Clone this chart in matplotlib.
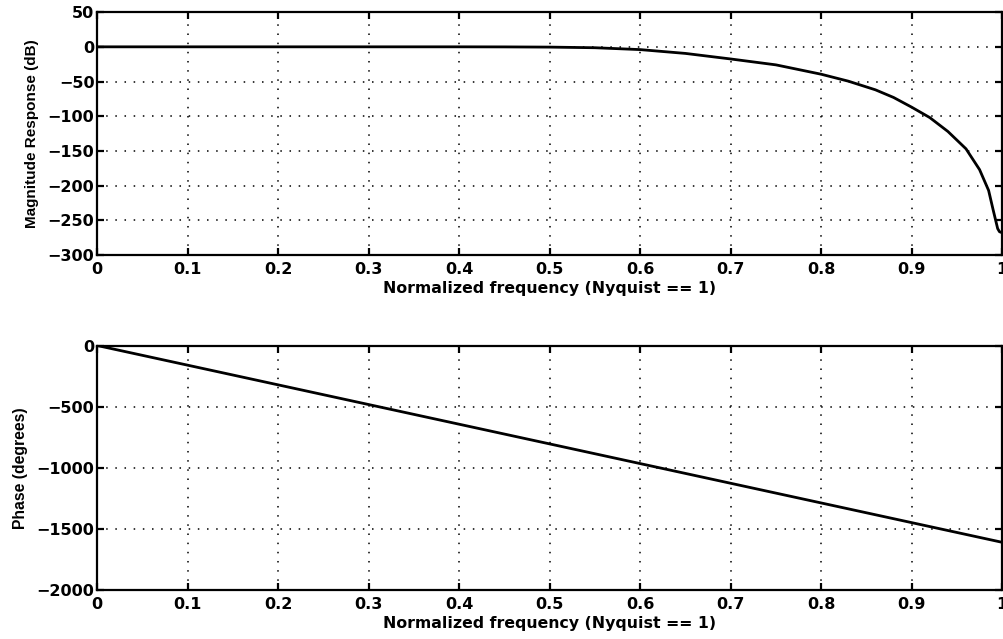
import matplotlib
matplotlib.use("Agg")
import matplotlib.pyplot as plt

# Magnitude response of the FIR lowpass filter (dB), sampled along the curve
freq_mag = [0.0, 0.1, 0.2, 0.3, 0.4, 0.45, 0.5, 0.55, 0.6, 0.65, 0.7, 0.75,
            0.8, 0.83, 0.86, 0.88, 0.9, 0.92, 0.94, 0.96, 0.975, 0.985,
            0.99, 0.995, 0.997, 1.0]
mag_db = [0.0, 0.0, 0.0, 0.0, 0.0, -0.1, -0.4, -1.3, -4.0, -9.5, -17.5, -26.0,
          -39.5, -49.5, -62.0, -73.0, -87.0, -102.0, -122.0, -147.0, -177.0,
          -207.0, -235.0, -262.0, -266.5, -268.0]

# Phase response (degrees), linear phase
freq_phase = [0.0, 0.3, 0.6, 0.9, 1.0]
phase_deg = [0.0, -483.0, -966.0, -1449.0, -1610.0]

x_ticks = [0.0, 0.1, 0.2, 0.3, 0.4, 0.5, 0.6, 0.7, 0.8, 0.9, 1.0]
x_tick_labels = ["0", "0.1", "0.2", "0.3", "0.4", "0.5", "0.6", "0.7", "0.8", "0.9", "1"]
mag_ticks = [50, 0, -50, -100, -150, -200, -250, -300]
phase_ticks = [0, -500, -1000, -1500, -2000]

xlabel_text = "Normalized frequency (Nyquist == 1)"
mag_ylabel = "Magnitude Response (dB)"
phase_ylabel = "Phase (degrees)"

plt.rcParams["font.family"] = ["DejaVu Sans"]
plt.rcParams["font.weight"] = "bold"

fig = plt.figure(figsize=(10.04, 6.39), dpi=100)
ax1 = fig.add_axes([0.0968, 0.601, 0.9014, 0.380])
ax2 = fig.add_axes([0.0968, 0.0767, 0.9014, 0.3826])


def fmt_num(v):
    s = f"{v:g}"
    return s.replace("-", "\u2212")


def style(ax, yticks, ylim, ylabel, ylabel_size):
    ax.set_xlim(0, 1)
    ax.set_ylim(*ylim)
    ax.set_xticks(x_ticks)
    ax.set_xticklabels(x_tick_labels)
    ax.set_yticks(yticks)
    ax.set_yticklabels([fmt_num(t) for t in yticks])
    ax.tick_params(direction="in", length=5, width=1.6, top=True, right=True,
                   labelsize=11.5)
    ax.tick_params(axis="x", pad=5)
    ax.tick_params(axis="y", pad=2)
    for lab in ax.get_xticklabels() + ax.get_yticklabels():
        lab.set_fontweight("bold")
    for sp in ax.spines.values():
        sp.set_linewidth(1.6)
    ax.grid(True, color="black", linestyle=(0, (1, 5)), linewidth=1.1)
    ax.set_xlabel(xlabel_text, fontsize=11.3, fontweight="bold", labelpad=3)
    ax.set_ylabel(ylabel, fontsize=ylabel_size, fontweight="bold",
                  family="Liberation Sans", labelpad=6)


ax1.plot(freq_mag, mag_db, color="black", linewidth=2.0)
style(ax1, mag_ticks, (-300, 50), mag_ylabel, 11.0)

ax2.plot(freq_phase, phase_deg, color="black", linewidth=2.0)
style(ax2, phase_ticks, (-2000, 0), phase_ylabel, 11.3)

fig.savefig("out.png", dpi=100, facecolor="white")
